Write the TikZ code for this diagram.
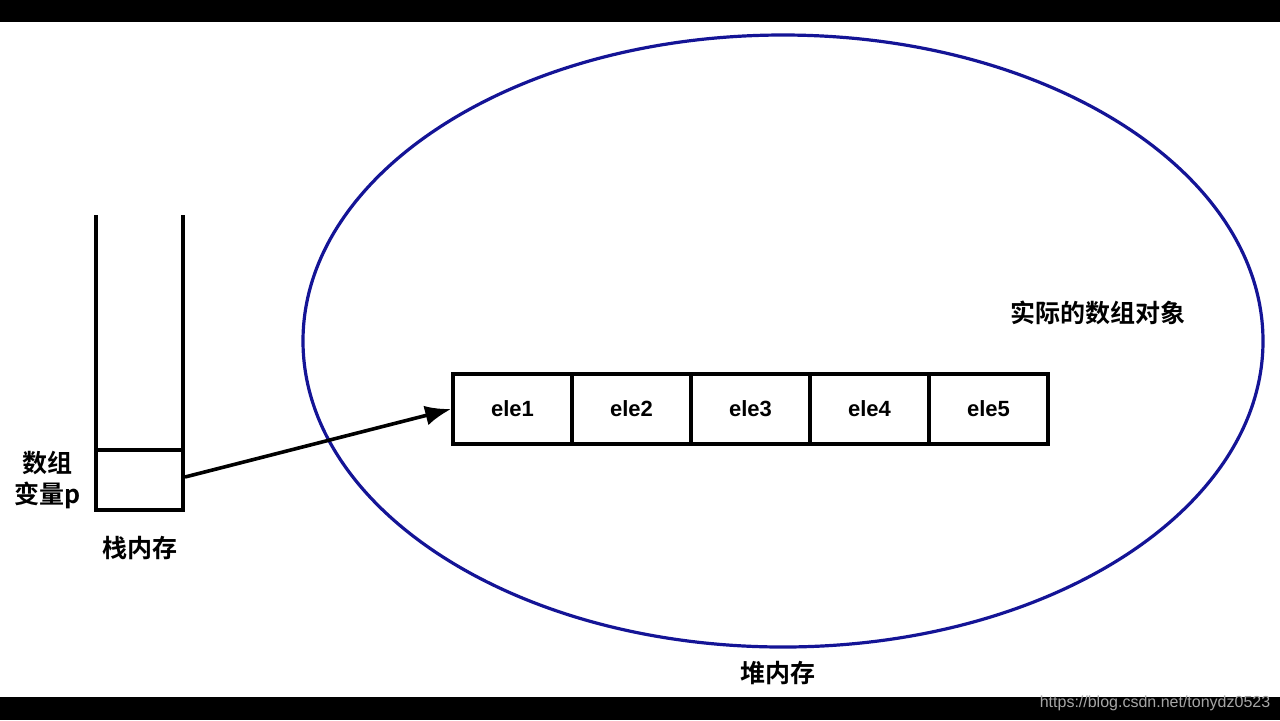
\documentclass[tikz,border=0pt]{standalone}
\usepackage{fontspec}
\usetikzlibrary{arrows.meta}
\setmainfont{Liberation Sans}
\newfontfamily\cjk{Noto Sans CJK SC Bold}
\begin{document}
\begin{tikzpicture}[x=0.5pt,y=-0.5pt,
  cell/.style={draw,line width=1.8pt,minimum width=59.5pt,minimum height=35pt,inner sep=0pt,font=\bfseries\fontsize{11}{13}\selectfont},
  lbl/.style={font=\cjk\fontsize{12.5}{15}\selectfont}]
\useasboundingbox (0,0) rectangle (1280,720);
\fill[white] (0,0) rectangle (1280,720);
\fill[black] (0,0) rectangle (1280,22);
\fill[black] (0,697) rectangle (1280,720);
\node[font=\fontsize{8}{9}\selectfont,text=gray!70] (wm) at (1155,703) {https://blog.csdn.net/tonydz0523};
\draw[line width=1.6pt,color={rgb,255:red,20;green,20;blue,150}] (783,341) ellipse [x radius=240pt, y radius=153pt];
% stack
\draw[line width=1.8pt] (96,215) -- (96,510) -- (183,510) -- (183,215);
\draw[line width=1.8pt] (96,450) -- (183,450);
\coordinate (pv) at (185,477);
\node[lbl] (t1) at (48,463) {数组};
\node[lbl] (t2) at (48,495) {变量p};
\node[lbl] (t3) at (140,548) {栈内存};
% array
\foreach \i in {1,...,5}{
  \node[cell] (e\i) at ({453+59.5+119*(\i-1)},409) {ele\i};
}
\draw[line width=1.8pt,-{Latex[length=13pt,width=10pt]}] (pv) -- (e1.west);
\node[lbl] (t4) at (1098,313) {实际的数组对象};
\node[lbl] (t5) at (778,673) {堆内存};
\end{tikzpicture}
\end{document}
